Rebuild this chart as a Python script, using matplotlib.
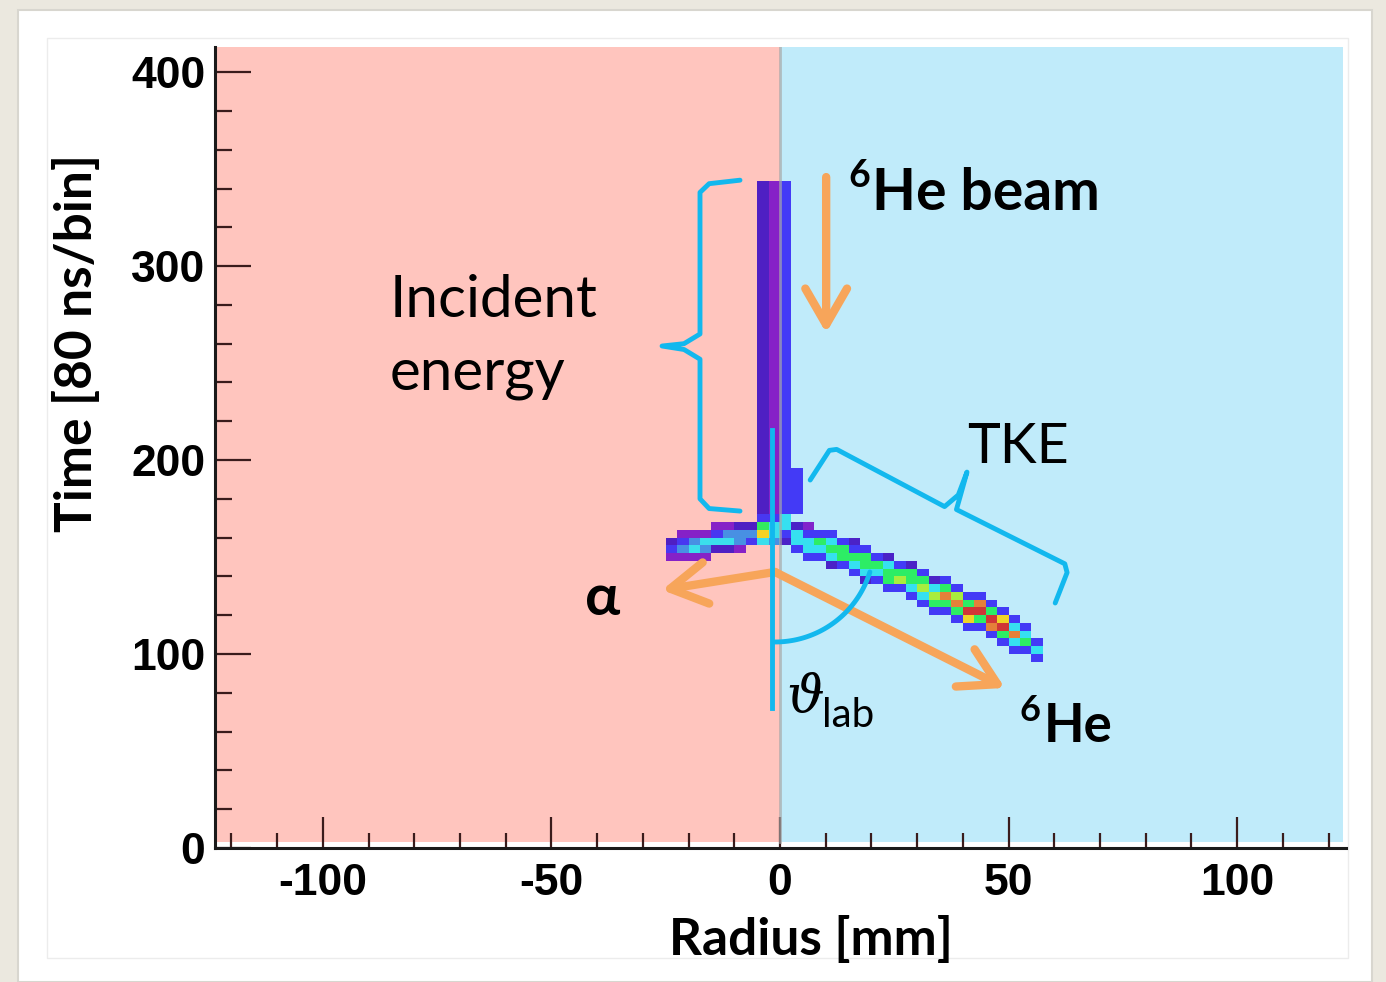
import numpy as np
import matplotlib
matplotlib.use('Agg')
import matplotlib.pyplot as plt
from matplotlib.colors import ListedColormap, BoundaryNorm
from matplotlib.patches import Rectangle

plt.rcParams['axes.unicode_minus'] = False

# histogram binning (Radius [mm] x Time [80 ns/bin])
x_edges = np.arange(-125.0, 125.01, 2.5)
t_edges = np.arange(0.0, 416.01, 4.0)

# colour levels 1..10, low -> high counts
level_colors = ['#7d14c8', '#4212c4', '#3a2cf6', '#3a8ce6', '#2ce0f0',
                '#22ee5a', '#a8ee30', '#f4d416', '#e8782a', '#d22828']

# beam band: column left edge, lowest / highest time, level
beam_x = [-5.0, -2.5, 0.0, 2.5]
beam_t0 = [172, 172, 172, 172]
beam_t1 = [344, 344, 344, 196]
beam_lvl = [2, 1, 3, 3]

# alpha branch: column left edge, top time, levels downwards
al_x = [-25.0, -22.5, -20.0, -17.5, -15.0, -12.5, -10.0, -7.5, -5.0, -2.5]
al_top = [160, 164, 164, 164, 168, 168, 168, 168, 172, 172]
al_cells = [[2, 3, 1], [1, 3, 4, 1], [1, 4, 5, 1], [1, 5, 4, 1], [1, 3, 5, 2],
            [1, 4, 5, 2], [2, 4, 4, 1], [2, 4, 3], [3, 6, 8, 5], [3, 5, 5, 4]]

# 6He branch
he_x = [0.0, 2.5, 5.0, 7.5, 10.0, 12.5, 15.0, 17.5, 20.0, 22.5, 25.0, 27.5,
        30.0, 32.5, 35.0, 37.5, 40.0, 42.5, 45.0, 47.5, 50.0, 52.5, 55.0]
he_top = [172, 168, 168, 164, 164, 160, 160, 156, 152, 152, 148, 148,
          144, 140, 140, 136, 132, 132, 128, 124, 120, 116, 108]
he_cells = [[5, 5, 3, 2], [2, 5, 5, 3], [1, 3, 5, 5, 3], [3, 6, 5, 3],
            [3, 5, 6, 5, 2], [3, 6, 6, 3], [2, 3, 6, 5, 3], [3, 6, 6, 5, 2],
            [3, 6, 5, 3], [2, 5, 6, 6, 3], [3, 6, 7, 3], [2, 6, 6, 5, 3],
            [3, 6, 7, 5, 3], [2, 5, 7, 6, 3], [3, 6, 9, 6, 3], [3, 7, 9, 6, 3],
            [3, 6, 10, 8, 3], [3, 9, 10, 6, 3], [3, 6, 10, 9, 3], [3, 8, 10, 6, 3],
            [3, 5, 9, 5, 3], [3, 5, 6, 3], [3, 5, 3]]

dx = x_edges[1] - x_edges[0]
dt = t_edges[1] - t_edges[0]
grid = np.full((len(t_edges) - 1, len(x_edges) - 1), np.nan)

for x, t0, t1, lv in zip(beam_x, beam_t0, beam_t1, beam_lvl):
    i = int(round((x - x_edges[0]) / dx))
    grid[int(t0 / dt):int(t1 / dt), i] = lv

for xs, tops, cells in [(al_x, al_top, al_cells), (he_x, he_top, he_cells)]:
    for x, top, col in zip(xs, tops, cells):
        i = int(round((x - x_edges[0]) / dx))
        for k, lv in enumerate(col):
            grid[int(round(top / dt)) - k - 1, i] = lv

# ---- figure
pink = '#ffc5be'
sky = '#c0ebfa'
cyan = '#12b8ee'
orange = '#f7a55a'

fig = plt.figure(figsize=(13.86, 9.82), dpi=100)
fig.patch.set_facecolor('#ebe8df')
fig.add_artist(Rectangle((18 / 1386, 0), 1354 / 1386, 972 / 982, transform=fig.transFigure,
                         facecolor='white', edgecolor='#d8d6cf', lw=1.5, zorder=0))
fig.add_artist(Rectangle((47 / 1386, 24 / 982), 1301 / 1386, 920 / 982, transform=fig.transFigure,
                         facecolor='none', edgecolor='#ececec', lw=1, zorder=0))

ax = fig.add_axes([0.1551, 0.1365, 0.816, 0.8157])
ax.patch.set_alpha(0)
ax.set_xlim(-123.6, 123.8)
ax.set_ylim(0, 413)

ax.axvspan(-123.6, 0, ymin=3 / 413, color=pink, lw=0, zorder=0)
ax.axvspan(0, 123.2, ymin=3 / 413, color=sky, lw=0, zorder=0)

cmap = ListedColormap(level_colors)
norm = BoundaryNorm(np.arange(0.5, 11.0, 1.0), cmap.N)
ax.pcolormesh(x_edges, t_edges, np.ma.masked_invalid(grid), cmap=cmap, norm=norm,
              alpha=0.93, edgecolors='none', antialiased=False, zorder=1)
ax.axvline(0, ymin=3 / 413, color='#a8a8a8', lw=2, alpha=0.7, zorder=2)

# axes frame and ticks
for s in ['top', 'right']:
    ax.spines[s].set_visible(False)
for s in ['left', 'bottom']:
    ax.spines[s].set_linewidth(2.2)
    ax.spines[s].set_color('#1a1a1a')
ax.set_xticks([-100, -50, 0, 50, 100])
ax.set_xticks(np.arange(-120, 121, 10), minor=True)
ax.set_yticks([0, 100, 200, 300, 400])
ax.set_yticks(np.arange(0, 401, 20), minor=True)
ax.tick_params(axis='x', which='major', direction='in', length=22, width=1.6, color='#3a1c1c', pad=11)
ax.tick_params(axis='x', which='minor', direction='in', length=11, width=1.6, color='#3a1c1c')
ax.tick_params(axis='y', which='major', direction='in', length=26, width=1.6, color='#3a1c1c', pad=7)
ax.tick_params(axis='y', which='minor', direction='in', length=12, width=1.6, color='#3a1c1c')
for lab in ax.get_xticklabels() + ax.get_yticklabels():
    lab.set_fontfamily('Liberation Sans')
    lab.set_fontweight('bold')
    lab.set_fontsize(32)

ax.text(-0.122, 0.63, 'Time [80 ns/bin]', transform=ax.transAxes, rotation=90,
        ha='center', va='center', fontsize=37, fontweight='bold', family='Lato')
ax.text(0.527, -0.1336, 'Radius [mm]', transform=ax.transAxes, ha='center', va='baseline',
        fontsize=37, fontweight='bold', family='Lato')

# annotations
lw_c = 3.5
brace_ie_x = [-8.75, -15.5, -17.5, -17.5, -21.0, -25.8, -21.0, -17.5, -17.5, -15.5, -8.75]
brace_ie_t = [344.3, 342.5, 338.0, 265.0, 260.0, 258.8, 257.0, 252.0, 180.0, 175.0, 173.7]
ax.plot(brace_ie_x, brace_ie_t, color=cyan, lw=lw_c, solid_capstyle='round',
        solid_joinstyle='round', zorder=4)

brace_tke_x = [6.6, 10.8, 12.4, 36.0, 39.0, 40.9, 39.5, 38.6, 62.3, 62.8, 60.2]
brace_tke_t = [189.7, 205.0, 205.5, 176.0, 182.0, 193.8, 182.0, 174.5, 146.5, 142.0, 126.3]
ax.plot(brace_tke_x, brace_tke_t, color=cyan, lw=lw_c, solid_capstyle='round',
        solid_joinstyle='round', zorder=4)

ax.plot([-1.75, -1.75], [215.5, 72.2], color=cyan, lw=lw_c, zorder=4)
ang = np.radians(np.linspace(-90, -17, 60))
ax.plot(-1.09 + 21.7 * np.cos(ang), 157.2 + 51.0 * np.sin(ang), color=cyan, lw=lw_c,
        solid_capstyle='round', zorder=4)

arrow_kw = dict(arrowstyle='->,head_length=1.3,head_width=0.75', color=orange, lw=6,
                mutation_scale=20, shrinkA=0, shrinkB=0, capstyle='round', joinstyle='round')
ax.annotate('', xy=(10.1, 265.5), xytext=(10.1, 345.9), arrowprops=arrow_kw, zorder=3)
ax.annotate('', xy=(-25.8, 133.0), xytext=(-1.1, 142.3), arrowprops=arrow_kw, zorder=3)
ax.annotate('', xy=(49.2, 82.5), xytext=(-1.1, 142.3), arrowprops=arrow_kw, zorder=3)

txt = dict(va='baseline', ha='left', color='black', zorder=5)
ax.text(-85.3, 274.0, 'Incident', fontsize=42, family='Lato', **txt)
ax.text(-85.3, 236.6, 'energy', fontsize=42, family='Lato', **txt)
ax.text(15.0, 341.0, '6', fontsize=27, family='Lato', fontweight='bold', **txt)
ax.text(20.2, 328.9, 'He beam', fontsize=41, family='Lato', fontweight='bold', **txt)
ax.text(40.9, 198.5, 'TKE', fontsize=40, family='Lato', **txt)
ax.text(-42.7, 120.1, 'α', fontsize=42, family=['Lato', 'Noto Sans', 'DejaVu Sans'],
        fontweight='bold', **txt)
ax.text(1.3, 70.1, 'ϑ', fontsize=38, family='DejaVu Serif', style='italic', **txt)
ax.text(9.2, 62.4, 'lab', fontsize=29, family='Lato', **txt)
ax.text(52.3, 65.5, '6', fontsize=26, family='Lato', fontweight='bold', **txt)
ax.text(57.6, 54.6, 'He', fontsize=38, family='Lato', fontweight='bold', **txt)

fig.savefig('out.png', dpi=100, facecolor=fig.get_facecolor())
